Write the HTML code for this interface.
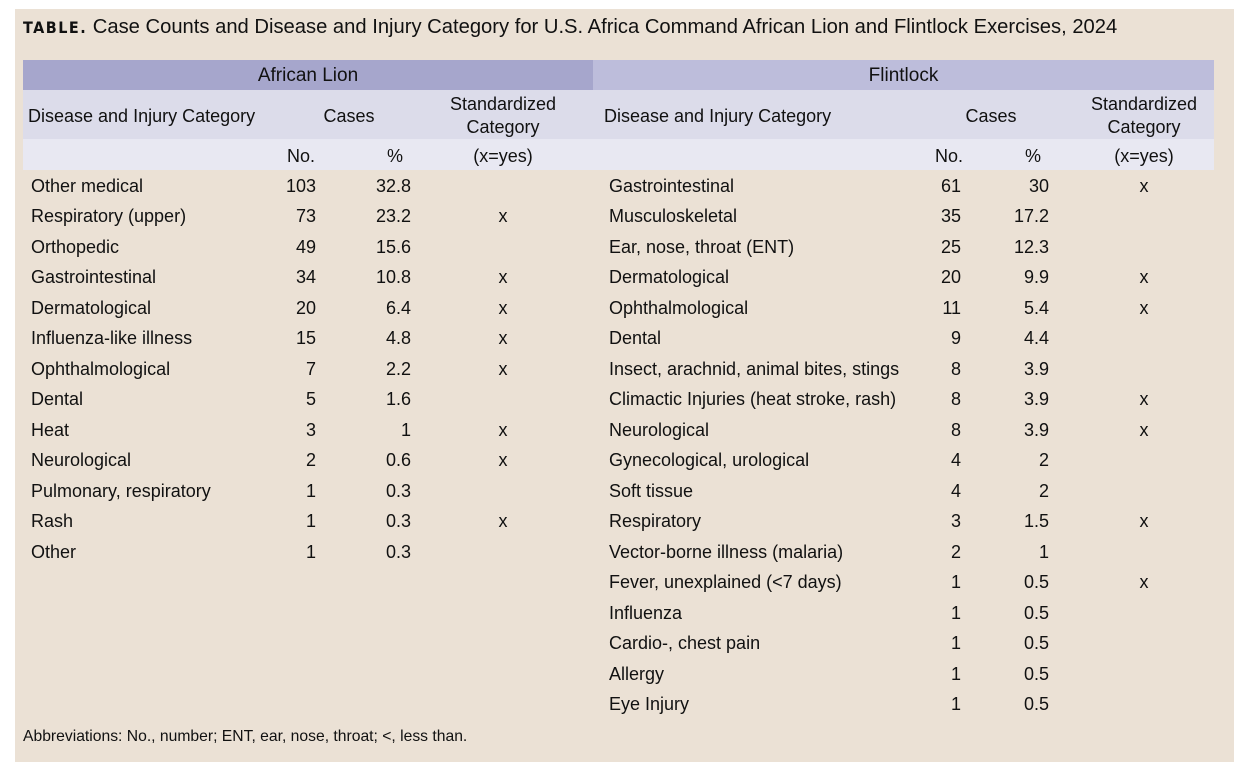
<!DOCTYPE html><html><head><style>
body{margin:0;width:1250px;height:773px;background:#fff;position:relative;font-family:"Liberation Sans",sans-serif;color:#111}
.bg{position:absolute;left:15px;top:9px;width:1219px;height:753px;background:#ebe1d5}
.a{position:absolute;white-space:nowrap;font-size:18px;line-height:20px}
.r{text-align:right}.c{text-align:center}
.box{position:absolute}
</style></head><body><div class="bg"></div>
<div class="a" style="left:23px;top:16px;font-size:20.2px;line-height:22px"><b style="font-family:'DejaVu Sans Condensed','Liberation Sans Narrow',sans-serif;letter-spacing:1.5px;font-size:16px">TABLE.</b> Case Counts and Disease and Injury Category for U.S. Africa Command African Lion and Flintlock Exercises, 2024</div>
<div class="box" style="left:23px;top:60px;width:570px;height:30px;background:#a6a6cc"></div>
<div class="box" style="left:593px;top:60px;width:621px;height:30px;background:#bdbddb"></div>
<div class="box" style="left:23px;top:90px;width:1191px;height:49px;background:#dcdcea"></div>
<div class="box" style="left:23px;top:139px;width:1191px;height:31px;background:#e8e8f2"></div>
<div class="a c" style="left:23px;top:66px;width:570px;font-size:19px">African Lion</div>
<div class="a c" style="left:593px;top:66px;width:621px;font-size:19px">Flintlock</div>
<div class="a" style="left:28px;top:106px">Disease and Injury Category</div>
<div class="a c" style="left:299px;top:106px;width:100px">Cases</div>
<div class="a c" style="left:443px;top:93px;width:120px;line-height:23px">Standardized<br>Category</div>
<div class="a c" style="left:271px;top:146px;width:60px">No.</div>
<div class="a c" style="left:365px;top:146px;width:60px">%</div>
<div class="a c" style="left:443px;top:146px;width:120px">(x=yes)</div>
<div class="a" style="left:604px;top:106px">Disease and Injury Category</div>
<div class="a c" style="left:941px;top:106px;width:100px">Cases</div>
<div class="a c" style="left:1084px;top:93px;width:120px;line-height:23px">Standardized<br>Category</div>
<div class="a c" style="left:919px;top:146px;width:60px">No.</div>
<div class="a c" style="left:1003px;top:146px;width:60px">%</div>
<div class="a c" style="left:1084px;top:146px;width:120px">(x=yes)</div>
<div id="rows"></div>
<div class="a" style="left:23px;top:727px;font-size:15.7px">Abbreviations: No., number; ENT, ear, nose, throat; &lt;, less than.</div>
<script>
var L=[["Other medical",103,32.8,""],["Respiratory (upper)",73,23.2,"x"],["Orthopedic",49,15.6,""],["Gastrointestinal",34,10.8,"x"],["Dermatological",20,6.4,"x"],["Influenza-like illness",15,4.8,"x"],["Ophthalmological",7,2.2,"x"],["Dental",5,1.6,""],["Heat",3,1,"x"],["Neurological",2,0.6,"x"],["Pulmonary, respiratory",1,0.3,""],["Rash",1,0.3,"x"],["Other",1,0.3,""]];
var R=[["Gastrointestinal",61,30,"x"],["Musculoskeletal",35,17.2,""],["Ear, nose, throat (ENT)",25,12.3,""],["Dermatological",20,9.9,"x"],["Ophthalmological",11,5.4,"x"],["Dental",9,4.4,""],["Insect, arachnid, animal bites, stings",8,3.9,""],["Climactic Injuries (heat stroke, rash)",8,3.9,"x"],["Neurological",8,3.9,"x"],["Gynecological, urological",4,2,""],["Soft tissue",4,2,""],["Respiratory",3,1.5,"x"],["Vector-borne illness (malaria)",2,1,""],["Fever, unexplained (<7 days)",1,0.5,"x"],["Influenza",1,0.5,""],["Cardio-, chest pain",1,0.5,""],["Allergy",1,0.5,""],["Eye Injury",1,0.5,""]];
var h="";function esc(s){return String(s).replace(/</g,"&lt;")}
function add(d,x0,n,p,xc){d.forEach(function(r,i){var t=176+i*30.47;
h+='<div class="a" style="left:'+x0+'px;top:'+t+'px">'+esc(r[0])+'</div>';
h+='<div class="a r" style="left:'+(n-80)+'px;top:'+t+'px;width:80px">'+r[1]+'</div>';
h+='<div class="a r" style="left:'+(p-80)+'px;top:'+t+'px;width:80px">'+r[2]+'</div>';
h+='<div class="a c" style="left:'+(xc-30)+'px;top:'+t+'px;width:60px">'+r[3]+'</div>';});}
add(L,31,316,411,503);add(R,609,961,1049,1144);
document.getElementById("rows").innerHTML=h;
</script></body></html>
